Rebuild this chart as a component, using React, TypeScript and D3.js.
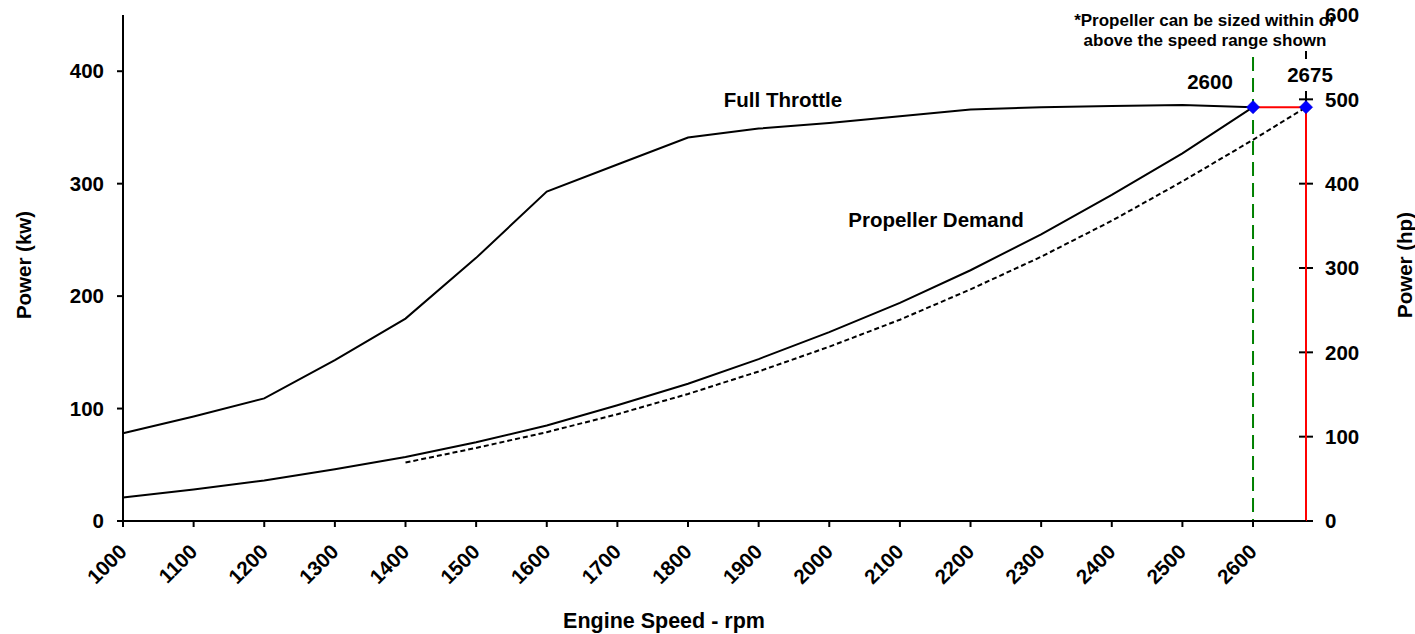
import React from "react";
import * as d3 from "d3";

const rpmTicks = [1000, 1100, 1200, 1300, 1400, 1500, 1600, 1700, 1800, 1900, 2000, 2100, 2200, 2300, 2400, 2500, 2600];
const kwTicks = [0, 100, 200, 300, 400];
const hpTicks = [0, 100, 200, 300, 400, 500, 600];

const fullThrottleRpm = [1000, 1100, 1200, 1300, 1400, 1500, 1600, 1700, 1800, 1900, 2000, 2100, 2200, 2300, 2400, 2500, 2600];
const fullThrottleKw = [78, 93, 109, 143, 180, 234, 293, 317, 341, 349, 354, 360, 366, 368, 369, 370, 368];

const propDemandRpm = [1000, 1100, 1200, 1300, 1400, 1500, 1600, 1700, 1800, 1900, 2000, 2100, 2200, 2300, 2400, 2500, 2600];
const propDemandKw = [21, 28, 36, 46, 57, 70, 85, 103, 122, 144, 168, 194, 223, 255, 290, 327, 368];

const propAltRpm = [1400, 1500, 1600, 1700, 1800, 1900, 2000, 2100, 2200, 2300, 2400, 2500, 2600, 2675];
const propAltKw = [52, 65, 79, 95, 113, 133, 155, 179, 206, 235, 267, 302, 339, 368];

const ratedRpm = [2600, 2675];
const ratedKw = [368, 368];

const FONT = "'Liberation Sans', Arial, Helvetica, sans-serif";

export default function App() {
  const W = 1415, H = 634;
  const left = 123, right = 1306, top = 15, bottom = 521;
  const x = d3.scaleLinear().domain([1000, 2675]).range([left, right]);
  const yL = d3.scaleLinear().domain([0, 450]).range([bottom, top]);
  const yR = d3.scaleLinear().domain([0, 600]).range([bottom, top]);

  const line = d3.line<[number, number]>().x(d => x(d[0])).y(d => yL(d[1]));
  const ft = line(fullThrottleRpm.map((r, i) => [r, fullThrottleKw[i]]));
  const pd = line(propDemandRpm.map((r, i) => [r, propDemandKw[i]]));
  const pa = line(propAltRpm.map((r, i) => [r, propAltKw[i]]));
  const marker = d3.symbol().type(d3.symbolSquare).size(88)();

  const txt = { fontFamily: FONT, fontWeight: 700 as const, fill: "#000" };
  const FS = 20.5;

  return (
    <svg width={W} height={H} style={{ position: "absolute", left: 0, top: 0, background: "#fff" }}>
      {/* right axis line (mostly hidden) */}
      <line x1={right} x2={right} y1={top} y2={bottom} stroke="#000" strokeWidth={2} />
      {hpTicks.map(t => (
        <line key={t} x1={right - 7} x2={right + 7} y1={yR(t)} y2={yR(t)} stroke="#000" strokeWidth={2} />
      ))}
      {/* green dashed line at 2600 */}
      <line x1={x(2600)} x2={x(2600)} y1={top} y2={bottom} stroke="#008000" strokeWidth={2} strokeDasharray="14,7" />
      {/* red lines */}
      <line x1={x(ratedRpm[0])} x2={x(ratedRpm[1])} y1={yL(ratedKw[0])} y2={yL(ratedKw[1])} stroke="#ff0000" strokeWidth={2} />
      <line x1={x(ratedRpm[1])} x2={x(ratedRpm[1])} y1={yL(ratedKw[1])} y2={bottom} stroke="#ff0000" strokeWidth={2} />

      {/* curves */}
      <path d={ft ?? ""} fill="none" stroke="#000" strokeWidth={2} />
      <path d={pd ?? ""} fill="none" stroke="#000" strokeWidth={2} />
      <path d={pa ?? ""} fill="none" stroke="#000" strokeWidth={2} strokeDasharray="5,3" />

      {ratedRpm.map((r, i) => (
        <path key={i} d={marker ?? ""} transform={`translate(${x(r)},${yL(ratedKw[i])}) rotate(45)`} fill="#0000ff" stroke="#0000cc" strokeWidth={0.5} />
      ))}

      {/* left axis */}
      <line x1={left} x2={left} y1={top} y2={bottom} stroke="#000" strokeWidth={2} />
      {kwTicks.map(t => (
        <g key={t}>
          <line x1={left - 6} x2={left} y1={yL(t)} y2={yL(t)} stroke="#000" strokeWidth={2} />
          <text x={104} y={yL(t)} dy="0.35em" textAnchor="end" fontSize={FS} {...txt}>{t}</text>
        </g>
      ))}
      <text transform={`translate(31,265) rotate(-90)`} textAnchor="middle" fontSize={FS} {...txt}>Power (kw)</text>

      {/* bottom axis */}
      <line x1={left} x2={right} y1={bottom} y2={bottom} stroke="#000" strokeWidth={2} />
      {rpmTicks.map(t => (
        <g key={t}>
          <line x1={x(t)} x2={x(t)} y1={bottom} y2={bottom + 6} stroke="#000" strokeWidth={2} />
          <text transform={`translate(${x(t) + 5},${bottom + 32}) rotate(-45)`} textAnchor="end" fontSize={FS} {...txt}>{t}</text>
        </g>
      ))}
      <text x={664} y={628} textAnchor="middle" fontSize={21.5} {...txt}>Engine Speed - rpm</text>

      {/* annotation boxes */}
      <rect x={1066} y={3} width={278} height={48} fill="#fff" />
      <text x={1205} y={26} textAnchor="middle" fontSize={17} {...txt}>*Propeller can be sized within or</text>
      <text x={1205} y={46} textAnchor="middle" fontSize={17} {...txt}>above the speed range shown</text>
      <rect x={1284} y={59} width={50} height={32} fill="#fff" />
      <text x={1310} y={82} textAnchor="middle" fontSize={FS} {...txt}>2675</text>
      <text x={1210} y={89} textAnchor="middle" fontSize={FS} {...txt}>2600</text>

      {/* right axis labels */}
      {hpTicks.map(t => (
        <text key={t} x={1325} y={yR(t)} dy="0.35em" textAnchor="start" fontSize={FS} {...txt}>{t}</text>
      ))}
      <text transform={`translate(1412,265) rotate(-90)`} textAnchor="middle" fontSize={FS} {...txt}>Power (hp)</text>

      {/* series labels */}
      <text x={783} y={107} textAnchor="middle" fontSize={FS} {...txt}>Full Throttle</text>
      <text x={936} y={227} textAnchor="middle" fontSize={FS} {...txt}>Propeller Demand</text>
    </svg>
  );
}
